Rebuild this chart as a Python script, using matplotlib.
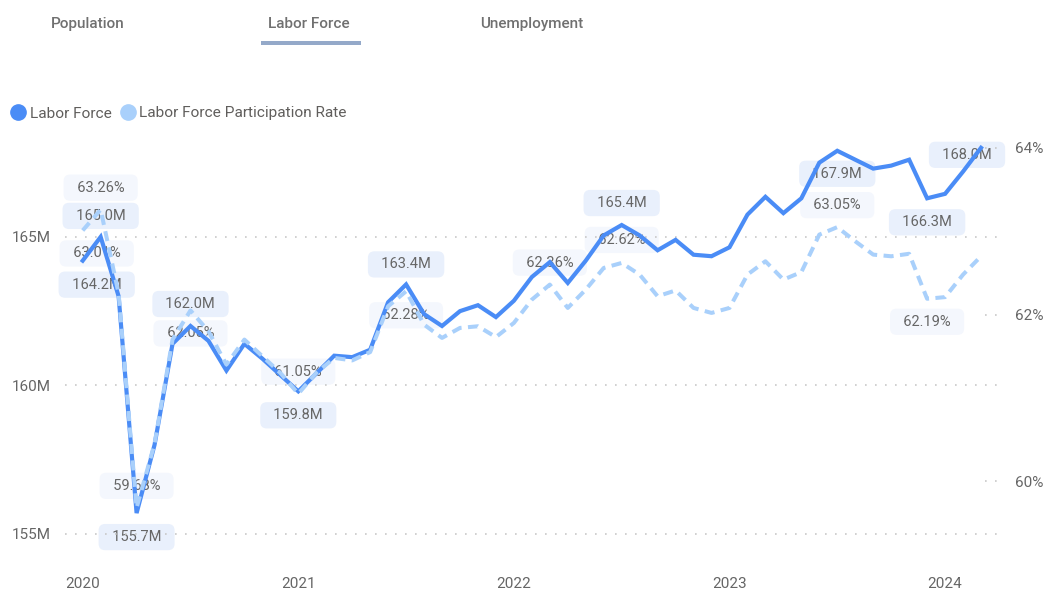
import matplotlib
matplotlib.use("Agg")
import matplotlib.pyplot as plt
from matplotlib.lines import Line2D
from matplotlib.patches import Rectangle

# monthly data, Jan 2020 .. Mar 2024
months = [f"{y}-{m:02d}" for y in range(2020, 2025) for m in range(1, 13)][:51]

labor_force = [
    164.2, 165.0, 163.0, 155.7, 158.0, 161.4, 162.0, 161.5, 160.5, 161.4, 160.9, 160.35,
    159.8, 160.4, 161.0, 160.95, 161.2, 162.8, 163.4, 162.4, 162.0, 162.5, 162.7, 162.3,
    162.85, 163.65, 164.15, 163.45, 164.2, 165.05, 165.4, 165.05, 164.55, 164.9, 164.4, 164.35,
    164.65, 165.75, 166.35, 165.8, 166.3, 167.5, 167.9, 167.6, 167.3, 167.4, 167.6, 166.3,
    166.45, 167.2, 168.0,
]
participation = [
    63.01, 63.26, 62.25, 59.68, 60.45, 61.7, 62.05, 61.8, 61.4, 61.7, 61.5, 61.3,
    61.05, 61.3, 61.48, 61.45, 61.55, 62.1, 62.28, 61.88, 61.72, 61.84, 61.86, 61.73,
    61.9, 62.18, 62.36, 62.08, 62.3, 62.56, 62.62, 62.48, 62.22, 62.29, 62.08, 62.02,
    62.08, 62.48, 62.64, 62.42, 62.51, 62.96, 63.05, 62.88, 62.72, 62.70, 62.73, 62.19,
    62.21, 62.48, 62.70,
]

year_labels = ["2020", "2021", "2022", "2023", "2024"]
left_ticks = [155, 160, 165]
right_ticks = [60, 62, 64]
tabs = ["Population", "Labor Force", "Unemployment"]

# which points get a data label: (month index, pixel offset dx, dy)
lf_labels = [(0, 14, -24), (1, 0, 21), (3, 0, -24), (6, 0, 22), (12, 0, -24),
             (18, 0, 20), (30, 0, 22), (42, 0, -23), (47, 0, -24), (50, -14, -7)]
pr_labels = [(0, 14, -23), (1, 0, 22), (3, 0, 22), (6, 0, -23), (12, 0, 22),
             (18, 0, -24), (26, 0, 22), (30, 0, 23), (42, 0, 22), (47, 0, -23)]

DARK = "#4A8CF6"
LIGHT = "#A9D0FB"
TXT = "#666666"
FONT = ["Roboto", "DejaVu Sans"]
plt.rcParams["font.family"] = FONT

W, H = 1050, 597
fig = plt.figure(figsize=(W / 100, H / 100), dpi=100)
fig.patch.set_facecolor("white")

# axes box in pixels: x 65..997, y 130..560
ax = fig.add_axes([65 / W, 1 - 560 / H, 932 / W, 430 / H])
ax2 = ax.twinx()

x = list(range(len(months)))
ax.plot(x, labor_force, color=DARK, lw=3.0, zorder=3, solid_joinstyle="miter")
ax2.plot(x, participation, color=LIGHT, lw=2.9, linestyle=(0, (2.5, 1.6)), zorder=3)

ax.set_xlim(-0.985, 50.89)
ax.set_ylim(154.12, 168.60)
ax2.set_ylim(59.054, 64.216)

for a in (ax, ax2):
    for s in a.spines.values():
        s.set_visible(False)
    a.tick_params(length=0, labelsize=11, labelcolor=TXT)

ax.set_xticks([12 * i for i in range(len(year_labels))])
ax.set_xticklabels(year_labels)
ax.tick_params(axis="x", pad=12)
ax.set_yticks(left_ticks)
ax.set_yticklabels([f"{v}M" for v in left_ticks])
ax.tick_params(axis="y", pad=10)
ax2.set_yticks(right_ticks)
ax2.set_yticklabels([f"{v}%" for v in right_ticks])
ax2.tick_params(axis="y", pad=13)

ax.grid(axis="y", color="#C8C8C8", linestyle=(0, (1, 5)), lw=1.2)
ax.grid(axis="x", visible=False)
for v in right_ticks:
    ax2.axhline(v, xmin=0.987, xmax=1.0, color="#C8C8C8", linestyle=(0, (1, 5)), lw=1.2)

# data labels, drawn under the lines
box_m = dict(boxstyle="round,pad=0.42,rounding_size=0.45", fc="#E9F0FC", ec="none")
box_p = dict(boxstyle="round,pad=0.42,rounding_size=0.45", fc="#F4F7FD", ec="none")
for i, dx, dy in lf_labels:
    ax.annotate(f"  {labor_force[i]:.1f}M  ", xy=(i, labor_force[i]), xytext=(dx, dy),
                textcoords="offset pixels", ha="center", va="center", fontsize=10.5,
                color=TXT, zorder=1, bbox=box_m)
for i, dx, dy in pr_labels:
    ax.annotate(f"  {participation[i]:.2f}%  ", xy=(i, participation[i]),
                xycoords=ax2.transData, xytext=(dx, dy), textcoords="offset pixels",
                ha="center", va="center", fontsize=10.5, color=TXT, zorder=1, bbox=box_p)

# tabs
tab_x = [88, 309, 532]
for name, tx in zip(tabs, tab_x):
    fig.text(tx / W, 1 - 24 / H, name, ha="center", va="center", fontsize=11,
             color="#707070", fontweight="medium")
fig.add_artist(Rectangle((261 / W, 1 - 45 / H), 100 / W, 4 / H, transform=fig.transFigure,
                         color="#94A9C9", lw=0))

# legend
handles = [Line2D([], [], marker="o", linestyle="", markersize=11, color=DARK),
           Line2D([], [], marker="o", linestyle="", markersize=11, color=LIGHT)]
fig.legend(handles, ["Labor Force", "Labor Force Participation Rate"], ncol=2,
           loc="center left", bbox_to_anchor=(3 / W, 1 - 113.5 / H), frameon=False,
           handletextpad=0.12, columnspacing=0.5, handlelength=1.2, borderaxespad=0,
           labelcolor="#605E5C", prop={"size": 11.1, "family": FONT})

fig.savefig("out.png", dpi=100, facecolor="white")
